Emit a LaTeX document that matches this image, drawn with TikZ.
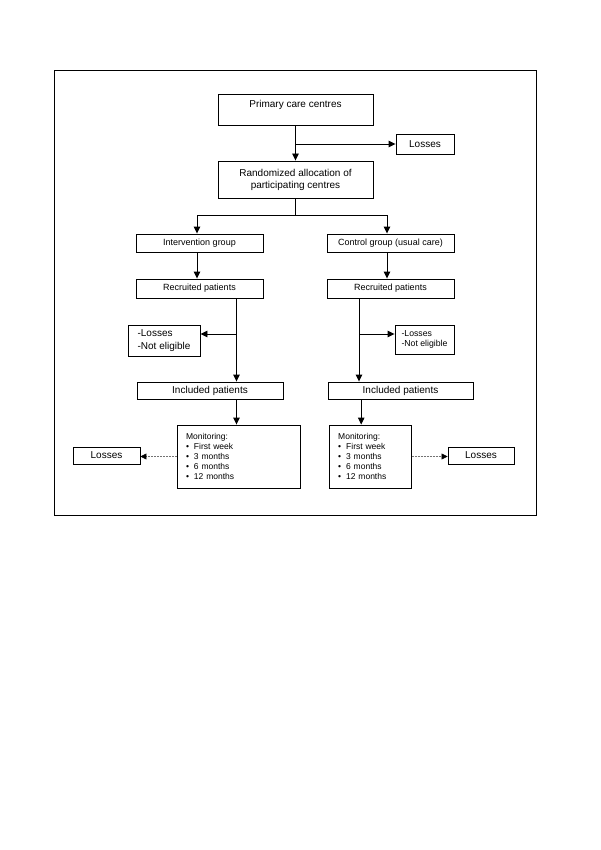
\documentclass[tikz,border=0pt]{standalone}
\usepackage{fontspec}
\setmainfont{Liberation Sans}
\usetikzlibrary{arrows.meta}

\begin{document}
\begin{tikzpicture}
  [ x=1pt, y=-1pt,
    box/.style={draw=black, line width=0.9pt, inner sep=1pt, align=center,
      font=\fontsize{10}{12}\selectfont},
    sbox/.style={box, font=\fontsize{9}{11}\selectfont},
    mon/.style={draw=black, line width=0.9pt, inner xsep=9pt, inner ysep=0pt,
      align=left, font=\fontsize{8.5}{10.2}\selectfont},
    ld/.style={draw=black, line width=0.9pt, -{Triangle[length=7pt,width=6.5pt]}},
    lt/.style={draw=black!55, line width=0.5pt, dash pattern=on 2pt off 1pt,
      -{Triangle[length=6pt,width=6pt,color=black]}}
  ]
  \useasboundingbox (0,0) rectangle (600,850);
  \draw [line width=0.9pt] (54.3,70) rectangle (536.7,515.7);

  \node (prim)  at (295.5,109.5) [box, minimum width=155pt, minimum height=31pt, text depth=11pt] {Primary care centres};
  \node (loss0) at (425,144)     [box, minimum width=58pt, minimum height=20pt] {Losses};
  \node (rand)  at (295.5,179.5) [box, minimum width=155pt, minimum height=37pt] {Randomized allocation of\\participating centres};

  \node (inter) at (199.5,243)   [sbox, minimum width=127pt, minimum height=18pt] {Intervention group};
  \node (ctrl)  at (390.5,243)   [sbox, minimum width=127pt, minimum height=18pt] {Control group (usual care)};
  \node (recL)  at (199.5,288.5) [sbox, minimum width=127pt, minimum height=19pt] {Recruited patients};
  \node (recR)  at (390.5,288.5) [sbox, minimum width=127pt, minimum height=19pt] {Recruited patients};

  \node (exL)   at (164,340.5)   [box, minimum width=72pt, minimum height=31pt, align=left,
                                  font=\fontsize{10}{13}\selectfont] {-Losses\\-Not eligible};
  \node (exR)   at (424.5,339.5) [sbox, minimum width=59pt, minimum height=29pt, align=left,
                                  font=\fontsize{8.7}{10.7}\selectfont] {-Losses\\-Not eligible};

  \node (incL)  at (210,390.5)   [box, minimum width=146pt, minimum height=17pt] {Included patients};
  \node (incR)  at (400.5,390.5) [box, minimum width=145pt, minimum height=17pt] {Included patients};

  \node (monL)  at (238.5,456.5) [mon, text width=105pt, minimum height=63pt]
    {Monitoring:\\ \textbullet\hspace{5pt}First week\\ \textbullet\hspace{5pt}3 months\\
     \textbullet\hspace{5pt}6 months\\ \textbullet\hspace{5pt}12 months};
  \node (monR)  at (370.2,456.5) [mon, text width=64pt, minimum height=63pt]
    {Monitoring:\\ \textbullet\hspace{5pt}First week\\ \textbullet\hspace{5pt}3 months\\
     \textbullet\hspace{5pt}6 months\\ \textbullet\hspace{5pt}12 months};
  \node (lossL) at (106.5,455.5) [box, minimum width=67pt, minimum height=17pt] {Losses};
  \node (lossR) at (481,455.5)   [box, minimum width=66pt, minimum height=17pt] {Losses};

  \coordinate (split) at (295.5,215);
  \coordinate (jL) at ([xshift=37pt]recL.south);
  \coordinate (jR) at ([xshift=-31.5pt]recR.south);
  \coordinate (exLin) at ([yshift=6.5pt]exL.east);
  \coordinate (exRin) at ([yshift=5.5pt]exR.west);
  \coordinate (kR) at ([xshift=-9pt]monR.north);

  \draw [ld] (prim) -- (rand);
  \draw [ld] (prim.south |- loss0.west) -- (loss0.west);
  \draw [line width=0.9pt] (rand) -- (split);
  \draw [ld] (split) -| ([xshift=-2.5pt]inter.north);
  \draw [ld] (split) -| ([xshift=-3.5pt]ctrl.north);
  \draw [ld] ([xshift=-2.5pt]inter.south) -- ([xshift=-2.5pt]recL.north);
  \draw [ld] ([xshift=-3.5pt]ctrl.south) -- ([xshift=-3.5pt]recR.north);

  \draw [ld] (jL) -- (jL |- incL.north);
  \draw [ld] (jL |- exLin) -- (exLin);
  \draw [ld] (jR) -- (jR |- incR.north);
  \draw [ld] (jR |- exRin) -- (exRin);

  \draw [ld] (jL |- incL.south) -- (jL |- monL.north);
  \draw [ld] (incR.south -| kR) -- (kR);
  \draw [lt] (monL.west) -- (monL.west -| lossL.east);
  \draw [lt] (monR.east) -- (monR.east -| lossR.west);
\end{tikzpicture}
\end{document}
